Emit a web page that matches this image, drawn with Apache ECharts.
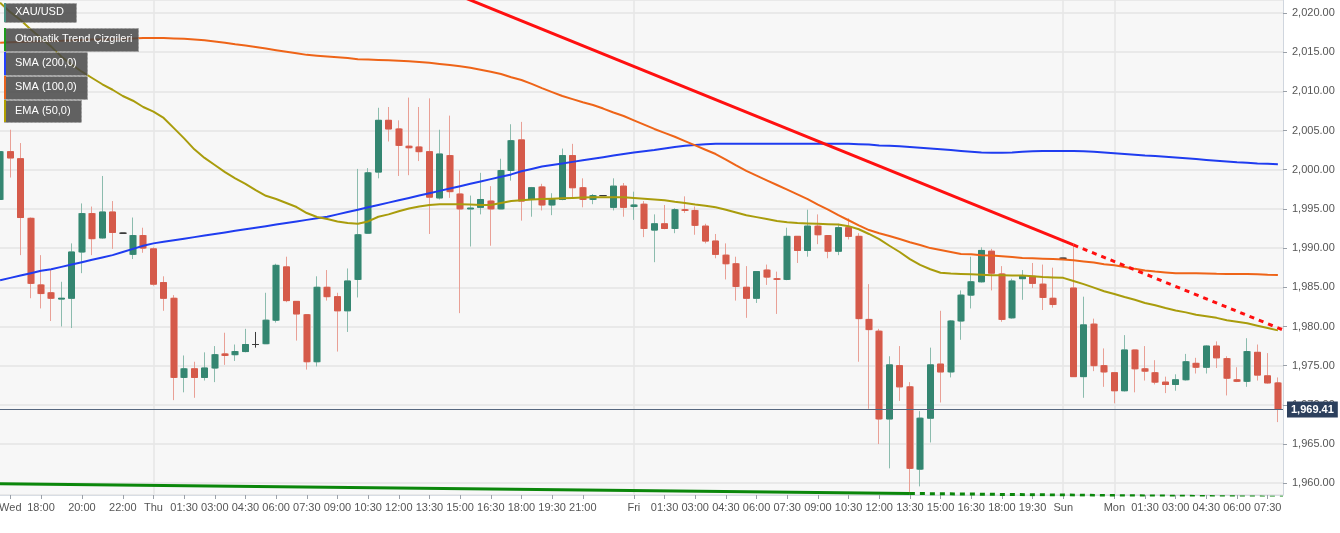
<!DOCTYPE html>
<html><head><meta charset="utf-8">
<script src="https://cdn.jsdelivr.net/npm/echarts@6/dist/echarts.min.js"></script>
<style>html,body{margin:0;padding:0;background:#fff}#c{width:1340px;height:533px}</style>
</head><body><div id="c"></div>
<script>
// ---- data (30-minute XAU/USD candles) ----
const OPEN=[1996.2,2002.3,2001.4,1993.8,1985.3,1984.3,1983.5,1983.6,1989.5,1994.4,
1991.3,1994.6,1991.9,1989.2,1991.6,1989.9,1985.6,1983.6,1973.5,1974.6,
1973.5,1974.7,1976.5,1976.4,1976.8,1977.7,1977.8,1980.8,1987.6,1983.2,
1981.5,1975.5,1985.0,1983.8,1982.0,1986.0,1991.9,1999.7,2006.3,2005.2,
2003.0,2002.9,2002.3,1996.4,2001.8,1996.9,1995.0,1995.2,1996.0,1995.0,
1999.9,2003.8,1996.2,1997.8,1995.5,1996.2,2001.8,1997.7,1996.2,1996.7,
1995.2,1997.9,1995.3,1995.6,1992.3,1993.1,1992.5,1994.9,1994.8,1992.8,
1990.9,1989.1,1988.0,1985.0,1983.6,1987.2,1986.1,1986.0,1991.5,1989.7,
1992.8,1991.6,1989.6,1992.6,1991.5,1980.9,1979.4,1968.2,1975.0,1972.3,
1961.8,1968.3,1975.2,1974.2,1980.7,1984.0,1985.7,1989.6,1986.7,1981.1,
1986.1,1986.4,1985.4,1983.6,1988.7,1984.9,1973.6,1980.3,1975.0,1974.1,
1971.8,1977.0,1974.6,1974.1,1972.9,1972.6,1973.2,1975.3,1974.8,1977.5,
1975.9,1973.2,1973.0,1976.7,1973.7,1972.8];
const HIGH=[2004.9,2005.1,2003.4,1993.9,1989.1,1987.2,1985.7,1990.6,1995.7,1995.3,
1999.2,1996.0,1991.9,1993.9,1992.6,1990.1,1986.4,1984.0,1976.3,1975.5,
1976.7,1977.5,1979.2,1977.7,1979.7,1979.3,1984.3,1988.0,1988.9,1983.2,
1981.5,1986.4,1987.2,1984.3,1987.4,2000.1,2000.2,2007.9,2008.0,2006.3,
2009.2,2008.0,2009.1,2005.1,2006.9,1999.9,1996.7,1999.6,1997.9,2001.4,
2005.8,2006.1,1997.8,1998.2,1997.0,2002.7,2003.3,1998.9,1996.9,1996.7,
1998.9,1998.3,1997.2,1996.0,1994.3,1995.5,1995.1,1996.6,1995.3,1993.1,
1991.8,1990.6,1988.9,1987.7,1987.0,1987.9,1987.0,1992.6,1991.5,1994.9,
1994.3,1991.6,1993.1,1993.8,1991.9,1985.4,1979.7,1976.2,1977.5,1972.9,
1969.2,1977.3,1982.0,1980.8,1984.6,1988.9,1990.1,1989.9,1987.7,1986.1,
1987.2,1988.1,1987.9,1987.5,1988.7,1990.3,1983.8,1981.0,1977.2,1974.2,
1978.9,1977.0,1977.5,1975.7,1973.6,1973.9,1976.5,1976.0,1977.6,1978.1,
1976.2,1974.8,1978.5,1977.7,1976.6,1973.5];
const LOW=[1992.1,1999.0,1989.1,1983.6,1982.3,1980.7,1980.0,1979.8,1986.8,1989.1,
1991.2,1989.9,1991.9,1988.6,1989.4,1985.2,1982.0,1970.6,1971.6,1970.9,
1973.1,1972.9,1975.1,1975.6,1976.7,1977.3,1977.8,1980.5,1983.1,1978.2,
1974.5,1974.9,1983.3,1976.8,1979.3,1983.7,1991.9,1998.9,2003.6,1999.2,
1999.3,2001.1,1991.8,1996.2,1996.4,1981.7,1990.2,1994.3,1990.3,1995.0,
1998.6,1993.5,1994.0,1994.8,1994.2,1996.1,1996.3,1995.2,1995.6,1996.7,
1994.8,1994.0,1993.6,1991.4,1988.2,1992.4,1991.9,1994.5,1991.7,1990.6,
1988.7,1986.0,1983.3,1981.1,1983.0,1985.3,1981.6,1985.9,1988.1,1988.9,
1990.5,1988.7,1989.1,1991.1,1975.5,1969.5,1965.0,1961.9,1970.5,1958.7,
1959.6,1965.2,1970.3,1973.5,1978.3,1982.3,1985.6,1984.6,1980.6,1981.0,
1983.4,1984.9,1982.1,1982.4,1988.7,1973.6,1970.9,1974.3,1972.3,1970.2,
1971.7,1971.6,1973.1,1972.6,1971.5,1971.8,1973.1,1974.0,1974.0,1974.7,
1971.2,1972.9,1972.3,1973.1,1972.7,1967.8];
const CLOSE=[2002.3,2001.5,1993.9,1985.5,1984.2,1983.6,1983.6,1989.5,1994.4,1991.2,
1994.6,1992.0,1991.9,1991.6,1990.0,1985.4,1983.6,1973.5,1974.6,1973.5,
1974.7,1976.4,1976.3,1976.8,1977.7,1977.7,1980.8,1987.8,1983.3,1981.6,
1975.5,1985.0,1983.8,1982.0,1985.8,1991.7,1999.6,2006.3,2005.2,2003.1,
2002.8,2002.3,1996.5,2002.0,1997.2,1995.0,1995.1,1996.2,1995.0,1999.9,
2003.7,1996.0,1997.7,1995.5,1996.2,2001.8,1997.7,1996.2,1996.7,1996.7,
1997.9,1995.2,1995.5,1992.5,1993.1,1992.5,1994.9,1994.8,1992.9,1990.9,
1989.2,1988.0,1985.1,1983.6,1987.0,1986.3,1986.0,1991.5,1989.7,1992.8,
1991.7,1989.6,1992.6,1991.5,1981.0,1979.6,1968.2,1975.1,1972.3,1961.9,
1968.3,1975.1,1974.2,1980.7,1984.0,1985.7,1989.7,1986.8,1980.9,1985.8,
1986.4,1985.5,1983.7,1982.8,1988.7,1973.6,1980.2,1975.0,1974.2,1971.8,
1977.0,1974.6,1974.3,1972.9,1972.6,1973.2,1975.5,1974.8,1977.5,1976.0,
1973.4,1973.0,1976.8,1973.8,1972.8,1969.41];

const SMA200=[1985.9,1986.2,1986.5,1986.8,1987.1,1987.3,1987.6,1987.9,1988.2,1988.5,
1988.8,1989.1,1989.5,1989.9,1990.3,1990.6,1990.8,1991.0,1991.2,1991.4,
1991.6,1991.8,1992.0,1992.2,1992.4,1992.6,1992.8,1993.0,1993.2,1993.4,
1993.6,1993.8,1994.0,1994.3,1994.6,1994.9,1995.2,1995.5,1995.8,1996.1,
1996.4,1996.7,1997.0,1997.3,1997.6,1997.9,1998.2,1998.5,1998.8,1999.1,
1999.4,1999.8,2000.1,2000.4,2000.6,2000.8,2001.0,2001.2,2001.4,2001.6,
2001.8,2002.0,2002.2,2002.35,2002.5,2002.7,2002.9,2003.05,2003.15,2003.25,
2003.3,2003.3,2003.3,2003.3,2003.3,2003.3,2003.3,2003.3,2003.3,2003.3,
2003.3,2003.3,2003.3,2003.3,2003.25,2003.2,2003.1,2003.05,2003.0,2002.9,
2002.8,2002.7,2002.6,2002.5,2002.4,2002.3,2002.2,2002.15,2002.15,2002.2,
2002.3,2002.35,2002.4,2002.4,2002.4,2002.4,2002.35,2002.3,2002.2,2002.1,
2002.0,2001.9,2001.8,2001.75,2001.65,2001.55,2001.45,2001.35,2001.25,2001.15,
2001.05,2000.95,2000.9,2000.8,2000.75,2000.7];
const SMA100=[2016.2,2016.25,2016.3,2016.35,2016.4,2016.4,2016.45,2016.5,2016.55,2016.6,
2016.6,2016.65,2016.7,2016.75,2016.8,2016.8,2016.8,2016.75,2016.7,2016.6,
2016.5,2016.35,2016.2,2016.0,2015.85,2015.65,2015.45,2015.25,2015.05,2014.85,
2014.65,2014.55,2014.45,2014.35,2014.25,2014.1,2014.05,2014.0,2013.95,2013.9,
2013.85,2013.75,2013.65,2013.5,2013.35,2013.2,2013.0,2012.75,2012.5,2012.2,
2011.8,2011.45,2010.95,2010.4,2009.9,2009.4,2009.0,2008.6,2008.25,2007.8,
2007.3,2006.85,2006.3,2005.75,2005.2,2004.7,2004.2,2003.65,2003.1,2002.55,
2002.0,2001.3,2000.55,1999.85,1999.25,1998.65,1998.05,1997.45,1996.85,1996.25,
1995.55,1994.9,1994.2,1993.55,1992.9,1992.3,1991.9,1991.55,1991.15,1990.75,
1990.4,1990.0,1989.75,1989.5,1989.25,1989.2,1989.1,1989.05,1988.95,1988.85,
1988.75,1988.7,1988.65,1988.6,1988.55,1988.45,1988.3,1988.15,1987.95,1987.8,
1987.6,1987.35,1987.15,1987.0,1986.9,1986.8,1986.8,1986.78,1986.75,1986.72,
1986.7,1986.7,1986.68,1986.65,1986.6,1986.57];
const EMA50=[2021.3,2020.1,2019.1,2017.9,2016.8,2015.7,2014.4,2013.4,2012.5,2011.7,
2010.9,2010.2,2009.4,2008.8,2008.0,2007.4,2006.6,2005.3,2004.0,2002.6,
2001.5,2000.6,1999.7,1998.9,1998.2,1997.4,1996.67,1996.26,1995.75,1995.24,
1994.47,1993.97,1993.7,1993.4,1993.2,1993.1,1993.4,1994.0,1994.3,1994.7,
1995.05,1995.3,1995.5,1995.6,1995.6,1995.6,1995.55,1995.5,1995.5,1995.75,
1996.0,1996.1,1996.2,1996.25,1996.3,1996.35,1996.4,1996.45,1996.5,1996.5,
1996.5,1996.5,1996.4,1996.3,1996.2,1996.1,1995.9,1995.75,1995.55,1995.4,
1995.2,1994.9,1994.55,1994.2,1993.95,1993.7,1993.45,1993.3,1993.2,1993.15,
1993.1,1993.05,1993.0,1992.8,1992.4,1991.8,1991.15,1990.3,1989.5,1988.6,
1987.85,1987.3,1986.85,1986.75,1986.7,1986.65,1986.6,1986.55,1986.55,1986.5,
1986.5,1986.4,1986.3,1986.25,1986.2,1985.8,1985.4,1984.95,1984.5,1984.15,
1983.75,1983.4,1983.0,1982.7,1982.35,1982.05,1981.8,1981.5,1981.3,1981.1,
1980.8,1980.6,1980.4,1980.1,1979.8,1979.5];

// automatic trend lines: [candle index, price]
const RESIST=[[44,2022.7],[105,1990.4]];
const RESIST_EXT=[[105,1990.4],[125.5,1979.56]];
const SUPPORT=[[-0.5,1959.95],[89,1958.7]];
const SUPPORT_EXT=[[89,1958.7],[125.5,1958.2]];
const LAST_PRICE=1969.41;

const TICK_IDX=[1,4,8,12,15,18,21,24,27,30,33,36,39,42,45,48,51,54,57,62,65,68,71,74,77,80,83,86,89,92,95,98,101,104,109,112,115,118,121,124];
const TICK_TXT=['Wed','18:00','20:00','22:00','Thu','01:30','03:00','04:30','06:00','07:30','09:00','10:30','12:00','13:30','15:00','16:30','18:00','19:30','21:00','Fri','01:30','03:00','04:30','06:00','07:30','09:00','10:30','12:00','13:30','15:00','16:30','18:00','19:30','Sun','Mon','01:30','03:00','04:30','06:00','07:30'];
const DAY_IDX=[15,62,104,109];
const LEGEND_TXT=['XAU/USD','Otomatik Trend Çizgileri','SMA (200,0)','SMA (100,0)','EMA (50,0)'];

// ---- build ----
const CATS=OPEN.map((_,i)=>String(i));
const tickMap={}; TICK_IDX.forEach((k,j)=>tickMap[k]=TICK_TXT[j]);
const daySet=new Set(DAY_IDX);
const UP='#348671', DN='#d55a4a', UPW='#8cbcae', DNW='#e9a096', DOJI='#3a3a3a';
const isDoji=i=>OPEN[i]===CLOSE[i];
const dojiStyle={color:DOJI,color0:DOJI,borderColor:DOJI,borderColor0:DOJI};
const wickData=OPEN.map((o,i)=>{const v=[o,CLOSE[i],LOW[i],HIGH[i]];return isDoji(i)?{value:v,itemStyle:dojiStyle}:v;});
const bodyData=OPEN.map((o,i)=>{const v=[o,CLOSE[i],Math.min(o,CLOSE[i]),Math.max(o,CLOSE[i])];return isDoji(i)?{value:v,itemStyle:dojiStyle}:v;});
const fmt=v=>v.toLocaleString('en-US',{minimumFractionDigits:2,maximumFractionDigits:2});

const LEG_BOX=[[3,19,72,'#4a9585'],[28,23,134,'#1c9a1c'],[52,23,83,'#2340ff'],[76,23,83,'#e8621e'],[100,22,77,'#b3a000']];
const graphics=[];
LEGEND_TXT.forEach((t,j)=>{
  const [y,h,w,c]=LEG_BOX[j];
  graphics.push({type:'rect',left:4,top:y,shape:{width:w,height:h},style:{fill:'rgba(70,70,70,0.85)',stroke:'#9a9a9a',lineWidth:1,lineDash:[2,2]},z:100});
  graphics.push({type:'rect',left:4,top:y,shape:{width:2,height:h},style:{fill:c},z:101});
  graphics.push({type:'text',left:15,top:y+h/2-6,style:{text:t,fill:'#fff',font:'11px "Liberation Sans", Arial, sans-serif'},z:102});
});

const chart=echarts.init(document.getElementById('c'),null,{renderer:'canvas'});
chart.setOption({
  animation:false,
  backgroundColor:'#ffffff',
  grid:{left:-5,right:57,top:0,height:495,show:true,backgroundColor:'#f7f7f7',borderWidth:0,containLabel:false,outerBoundsMode:'none'},
  xAxis:[{
    type:'category',data:CATS,boundaryGap:true,
    axisLine:{show:true,onZero:false,lineStyle:{color:'#d8dde4'}},
    axisTick:{show:true,alignWithLabel:true,length:4,lineStyle:{color:'#9aa0a8'},interval:(i)=>tickMap[i]!==undefined},
    axisLabel:{interval:(i)=>tickMap[i]!==undefined,formatter:(v,i)=>tickMap[i]||'',color:'#555',fontSize:11,fontFamily:'"Liberation Sans", Arial, sans-serif',margin:7},
    splitLine:{show:true,alignWithLabel:true,interval:(i)=>daySet.has(i),lineStyle:{color:'#e6e6e6',width:1.5}}
  },{
    type:'value',min:-0.5,max:125.5,show:false
  }],
  yAxis:{
    type:'value',position:'right',min:1958.5,max:2021.65,splitNumber:12,scale:true,
    axisLine:{show:true,onZero:false,lineStyle:{color:'#d0d6de'}},
    axisTick:{show:true,length:4,lineStyle:{color:'#9aa0a8'}},
    axisLabel:{showMinLabel:false,showMaxLabel:false,formatter:v=>(Math.abs(v/5-Math.round(v/5))<1e-6?fmt(v):''),color:'#555',fontSize:11,fontFamily:'"Liberation Sans", Arial, sans-serif',margin:9},
    splitLine:{show:true,lineStyle:{color:'#e4e4e4',width:1.5}}
  },
  graphic:{elements:graphics},
  series:[
    {type:'candlestick',name:'wick',data:wickData,barWidth:7,
      itemStyle:{color:UPW,color0:DNW,borderColor:UPW,borderColor0:DNW,borderWidth:1},z:2},
    {type:'candlestick',name:'XAU/USD',data:bodyData,barWidth:6,
      itemStyle:{color:UP,color0:DN,borderColor:UP,borderColor0:DN,borderWidth:1},z:3,
      markLine:{silent:true,symbol:'none',animation:false,
        lineStyle:{color:'#56677f',width:1,type:'solid'},
        label:{show:true,position:'end',distance:4,formatter:()=>fmt(LAST_PRICE),color:'#fff',fontWeight:'bold',fontSize:11,fontFamily:'"Liberation Sans", Arial, sans-serif',backgroundColor:'#2c3f5c',padding:[3,4,2,4]},
        data:[{yAxis:LAST_PRICE}]}},
    {type:'line',name:'SMA (200,0)',data:SMA200,showSymbol:false,lineStyle:{color:'#1f3cf0',width:2},z:4},
    {type:'line',name:'SMA (100,0)',data:SMA100,showSymbol:false,lineStyle:{color:'#ee6418',width:2},z:4},
    {type:'line',name:'EMA (50,0)',data:EMA50,showSymbol:false,lineStyle:{color:'#a99c0c',width:2},z:4},
    {type:'line',xAxisIndex:1,data:RESIST,showSymbol:false,lineStyle:{color:'#ff1010',width:3},z:5},
    {type:'line',xAxisIndex:1,data:RESIST_EXT,showSymbol:false,lineStyle:{color:'#ff1010',width:3,type:[5,5]},z:5},
    {type:'line',xAxisIndex:1,data:SUPPORT,showSymbol:false,lineStyle:{color:'#0b870b',width:3},z:5},
    {type:'line',xAxisIndex:1,data:SUPPORT_EXT,showSymbol:false,lineStyle:{color:'#0b870b',width:3,type:[5,5]},z:5}
  ]
});
</script></body></html>
